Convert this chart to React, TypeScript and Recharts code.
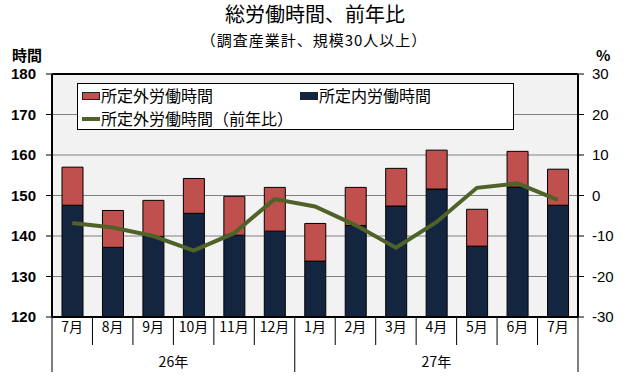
import { Bar, CartesianGrid, ComposedChart, Legend, Line, ReferenceLine, XAxis, YAxis } from "recharts";

const months = ["7月", "8月", "9月", "10月", "11月", "12月", "1月", "2月", "3月", "4月", "5月", "6月", "7月"];
const scheduledHours = [147.6, 137.2, 139.9, 145.6, 140.2, 141.2, 133.8, 142.6, 147.4, 151.6, 137.5, 152.1, 147.6];
const overtimeHours = [9.4, 9.1, 8.9, 8.6, 9.6, 10.8, 9.3, 9.4, 9.3, 9.6, 9.1, 8.8, 8.9];
const overtimeYoY = [-6.8, -7.9, -10.0, -13.6, -9.3, -0.9, -2.7, -7.3, -12.9, -6.6, 1.9, 3.0, -1.1];
const yearLabels = ["26年", "27年"];
const yearStarts = [0, 6];
const leftTicks = [120, 130, 140, 150, 160, 170, 180];
const rightTicks = [-30, -20, -10, 0, 10, 20, 30];

const data = months.map((m, i) => ({
  month: m,
  scheduled: scheduledHours[i],
  overtime: overtimeHours[i],
  yoy: overtimeYoY[i],
}));

const JP = '"Noto Sans CJK JP", "Noto Sans", sans-serif';
const RED = "#c0504d";
const NAVY = "#14263f";
const GREEN = "#4f6228";
const HALF_BAND = (630 - 104) / months.length / 2;

function MonthTick(props: any) {
  const { x, y, payload } = props;
  const i = payload.index;
  const yearIdx = yearStarts.indexOf(i);
  const last = i === months.length - 1;
  return (
    <g>
      <line x1={x - HALF_BAND} x2={x - HALF_BAND} y1={y} y2={yearIdx >= 0 ? y + 55 : y + 28} stroke="#000" />
      {last && <line x1={x + HALF_BAND} x2={x + HALF_BAND} y1={y} y2={y + 55} stroke="#000" />}
      <text x={x} y={y + 15} textAnchor="middle" fontSize={14} fontFamily={JP} fill="#000">
        {payload.value}
      </text>
      {yearIdx >= 0 && (
        <text
          x={x - HALF_BAND + ((yearStarts[yearIdx + 1] ?? months.length) - i) * HALF_BAND}
          y={y + 50}
          textAnchor="middle"
          fontSize={14}
          fontFamily={JP}
          fill="#000"
        >
          {yearLabels[yearIdx]}
        </text>
      )}
    </g>
  );
}

function ChartLegend() {
  const text = { position: "absolute" as const, fontSize: 16, fontFamily: JP, lineHeight: "20px", whiteSpace: "nowrap" as const };
  return (
    <div style={{ position: "relative", width: 437, height: 47, background: "#fff", border: "1px solid #000", boxSizing: "border-box" }}>
      <div style={{ position: "absolute", left: 4, top: 8, width: 16, height: 6, background: RED, border: "1px solid #222" }} />
      <div style={{ ...text, left: 23, top: 1 }}>所定外労働時間</div>
      <div style={{ position: "absolute", left: 222, top: 8, width: 16, height: 6, background: NAVY, border: "1px solid #222" }} />
      <div style={{ ...text, left: 241, top: 1 }}>所定内労働時間</div>
      <div style={{ position: "absolute", left: 4, top: 33, width: 18, height: 4, background: GREEN }} />
      <div style={{ ...text, left: 23, top: 24 }}>所定外労働時間（前年比）</div>
    </div>
  );
}

export default function App() {
  return (
    <div style={{ position: "absolute", left: 0, top: 0, width: 630, height: 380, background: "#fff" }}>
      <div style={{ position: "absolute", top: 0, width: 630, textAlign: "center", fontFamily: JP, fontSize: 20, lineHeight: "28px" }}>
        総労働時間、前年比
      </div>
      <div style={{ position: "absolute", top: 29, width: 628, textAlign: "center", fontFamily: JP, fontSize: 15, letterSpacing: 1, lineHeight: "22px" }}>
        （調査産業計、規模30人以上）
      </div>
      <div style={{ position: "absolute", left: 12, top: 46, fontFamily: JP, fontSize: 15, fontWeight: "bold", lineHeight: "18px" }}>時間</div>
      <div style={{ position: "absolute", left: 596, top: 46, fontFamily: JP, fontSize: 15, fontWeight: "bold", lineHeight: "18px" }}>%</div>
      <ComposedChart
        width={630}
        height={380}
        data={data}
        margin={{ top: 74, right: 0, bottom: 0, left: 0 }}
        barSize={21}
        style={{ position: "absolute", left: 0, top: 0 }}
      >
        <CartesianGrid yAxisId="left" vertical={false} stroke="#808080" fill="#f2f2f2" fillOpacity={1} />
        <XAxis
          dataKey="month"
          height={63}
          tickLine={false}
          tickSize={0}
          tickMargin={0}
          axisLine={{ stroke: "#000", strokeWidth: 2 }}
          tick={<MonthTick />}
          interval={0}
        />
        <YAxis
          yAxisId="left"
          width={52}
          domain={[120, 180]}
          ticks={leftTicks}
          allowDataOverflow
          tickSize={6}
          tickMargin={10}
          axisLine={{ stroke: "#000", strokeWidth: 2 }}
          tickLine={{ stroke: "#000" }}
          tick={{ fill: "#000", fontSize: 15, fontWeight: "bold", fontFamily: "Liberation Sans, Arial, sans-serif" }}
        />
        <YAxis
          yAxisId="right"
          orientation="right"
          width={52}
          domain={[-30, 30]}
          ticks={rightTicks}
          tickSize={6}
          tickMargin={8}
          axisLine={{ stroke: "#000", strokeWidth: 2 }}
          tickLine={{ stroke: "#000" }}
          tick={{ fill: "#000", fontSize: 15, textAnchor: "start", fontFamily: "Liberation Sans, Arial, sans-serif" }}
        />
        <ReferenceLine yAxisId="left" y={180} stroke="#000" strokeWidth={2} />
        <Legend
          verticalAlign="middle"
          align="center"
          layout="horizontal"
          content={<ChartLegend />}
          wrapperStyle={{ left: 77, top: 83, width: 437, height: 47 }}
        />
        <Bar yAxisId="left" dataKey="scheduled" stackId="a" fill={NAVY} stroke="#000" strokeWidth={1} isAnimationActive={false} name="所定内労働時間" />
        <Bar yAxisId="left" dataKey="overtime" stackId="a" fill={RED} stroke="#000" strokeWidth={1} isAnimationActive={false} name="所定外労働時間" />
        <Line yAxisId="right" dataKey="yoy" stroke={GREEN} strokeWidth={4} dot={false} isAnimationActive={false} name="所定外労働時間（前年比）" />
      </ComposedChart>
    </div>
  );
}
